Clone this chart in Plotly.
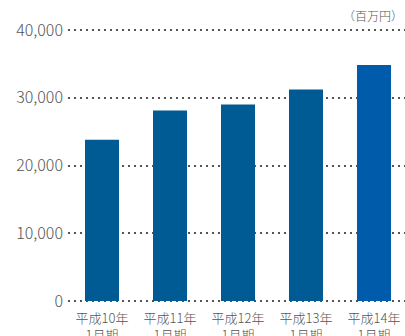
import plotly.graph_objects as go

categories = ["平成10年<br>1月期", "平成11年<br>1月期", "平成12年<br>1月期", "平成13年<br>1月期", "平成14年<br>1月期"]
values = [23800, 28100, 29000, 31200, 34850]
colors = ["#005a94", "#005a94", "#005a94", "#005a94", "#005bab"]
y_ticks = [0, 10000, 20000, 30000, 40000]
y_labels = ["0", "10,000", "20,000", "30,000", "40,000"]

font = "Noto Sans CJK JP"

fig = go.Figure(go.Bar(
    x=list(range(len(categories))), y=values, marker_color=colors,
    marker_line_width=0, width=0.5,
))
fig.update_layout(
    width=405, height=336,
    margin=dict(l=68, r=0, t=28, b=33),
    paper_bgcolor="white", plot_bgcolor="white",
    showlegend=False,
    font=dict(family=font, color="#555555"),
    annotations=[dict(text="（百万円）", x=1, xref="paper", xanchor="right",
                      y=1, yref="paper", yanchor="bottom", yshift=2,
                      showarrow=False, font=dict(size=12, color="#555555", family=font, weight=300))],
)
fig.update_xaxes(
    tickmode="array", tickvals=list(range(len(categories))), ticktext=categories,
    range=[-0.5, 4.456], showgrid=False, zeroline=False, showline=False,
    ticks="", ticklabelstandoff=6, automargin=False,
    tickfont=dict(size=13, color="#555555", family=font, weight=300),
)
fig.update_yaxes(
    tickmode="array", tickvals=y_ticks, ticktext=y_labels,
    range=[-295, 40295], showgrid=True, gridcolor="#555555", gridwidth=2,
    griddash="2px,4px", zeroline=False, showline=False, ticks="",
    ticklabelstandoff=4, automargin=False,
    tickfont=dict(size=16, color="#555555", family=font, weight=300),
)
fig.write_html("out.html")
